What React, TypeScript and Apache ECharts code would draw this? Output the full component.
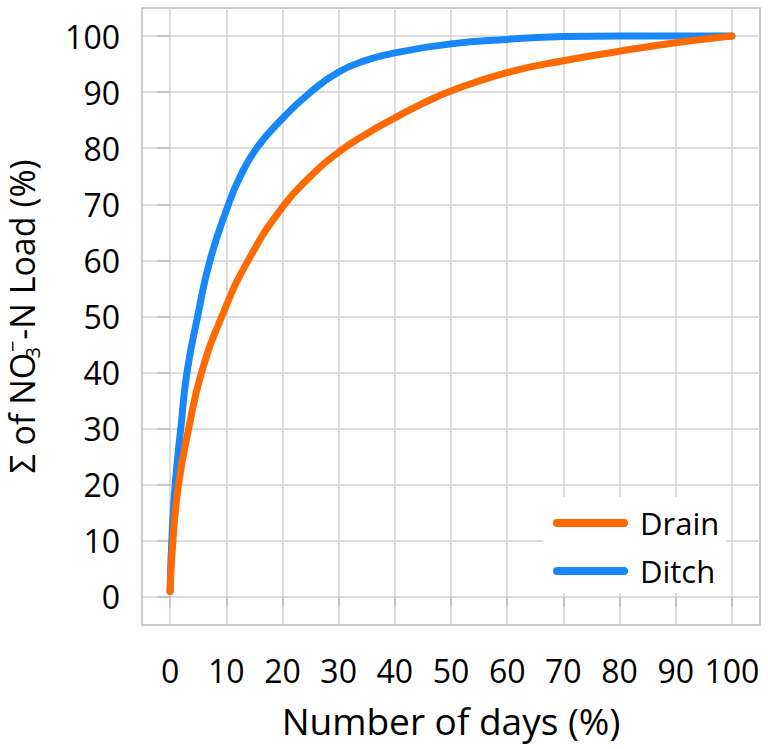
import React, { useEffect, useRef } from "react";
import * as echarts from "echarts";

const tickValues = [0, 10, 20, 30, 40, 50, 60, 70, 80, 90, 100];

const legendNames = ["Drain", "Ditch"];

const drainDays = [0, 0.5, 1.5, 3.3, 5.6, 9.2, 13.9, 20, 25, 30, 35, 40, 45, 50, 60, 70, 80, 90, 100];
const drainLoad = [1, 10, 20, 30, 40, 50, 60, 69.5, 75, 79.3, 82.6, 85.4, 88, 90.2, 93.5, 95.6, 97.3, 98.8, 100];

const ditchDays = [0, 0.3, 0.9, 1.9, 3.0, 4.9, 7.1, 10.4, 12.5, 15.4, 20, 25, 30, 35, 40, 50, 60, 70, 80, 90, 100];
const ditchLoad = [1, 10, 20, 30, 40, 50, 60, 70, 75, 80, 85.3, 90, 93.6, 95.7, 97, 98.6, 99.4, 99.9, 100, 100, 100];

const ORANGE = "#ff6a00";
const BLUE = "#1787fa";
const FONT = "'Open Sans', sans-serif";

const zip = (xs: number[], ys: number[]) => xs.map((x, i) => [x, ys[i]]);

export default function App() {
  const ref = useRef<HTMLDivElement>(null);
  useEffect(() => {
    if (!ref.current) return;
    const chart = echarts.init(ref.current, null, { renderer: "svg" });
    chart.setOption({
      animation: false,
      backgroundColor: "#fff",
      grid: {
        left: 142,
        right: 8,
        top: 8,
        bottom: 124,
        outerBoundsMode: "none",
        containLabel: false,
        show: true,
        borderColor: "#bcbcbc",
        borderWidth: 1.5,
        backgroundColor: "transparent",
      },
      legend: {
        left: 543,
        top: 497,
        orient: "vertical",
        data: legendNames,
        backgroundColor: "#fff",
        padding: [6, 7, 2, 10],
        itemGap: 8,
        itemWidth: 75,
        itemHeight: 8,
        icon: "path://M4,0 L71,0 A4,4 0 0 1 71,8 L4,8 A4,4 0 0 1 4,0 Z",
        textStyle: {
          fontSize: 31,
          fontFamily: FONT,
          color: "#000",
          lineHeight: 40,
          padding: [0, 0, 0, 7],
        },
      },
      xAxis: {
        type: "value",
        min: -5,
        max: 105,
        offset: 3,
        name: "Number of days (%)",
        nameLocation: "middle",
        nameGap: 74,
        nameTextStyle: { fontSize: 37, fontFamily: FONT, color: "#000" },
        axisLine: { show: false },
        axisTick: {
          show: true,
          length: 10,
          customValues: tickValues,
          lineStyle: { color: "#bcbcbc", width: 1.5 },
        },
        axisLabel: {
          customValues: tickValues,
          margin: 26,
          fontSize: 32,
          fontFamily: FONT,
          color: "#000",
        },
        splitLine: { show: true, lineStyle: { color: "#d2d2d2", width: 1.5 } },
      },
      yAxis: {
        type: "value",
        min: -5,
        max: 105,
        name: "{a|Σ of NO}{sub|3}{sup|−}{a|-N Load (%)}",
        nameLocation: "middle",
        nameGap: 100,
        nameTextStyle: {
          fontSize: 34,
          fontFamily: FONT,
          color: "#000",
          rich: {
            a: { fontSize: 34, fontFamily: FONT, color: "#000", lineHeight: 40 },
            sub: {
              fontSize: 20,
              fontFamily: FONT,
              color: "#000",
              verticalAlign: "bottom",
              lineHeight: 20,
              width: 0,
              align: "left",
            },
            sup: {
              fontSize: 20,
              fontFamily: FONT,
              color: "#000",
              verticalAlign: "top",
              lineHeight: 20,
              width: 13,
              align: "left",
            },
          },
        },
        axisLine: { show: false },
        axisTick: {
          show: true,
          length: 13,
          customValues: tickValues,
          lineStyle: { color: "#bcbcbc", width: 1.5 },
        },
        axisLabel: {
          customValues: tickValues,
          margin: 22,
          fontSize: 32,
          fontFamily: FONT,
          color: "#000",
        },
        splitLine: { show: true, lineStyle: { color: "#d2d2d2", width: 1.5 } },
      },
      series: [
        {
          name: "Ditch",
          type: "line",
          data: zip(ditchDays, ditchLoad),
          smooth: 0.5,
          showSymbol: false,
          symbol: "none",
          lineStyle: { width: 7, color: BLUE, cap: "round", join: "round" },
          itemStyle: { color: BLUE },
          z: 2,
        },
        {
          name: "Drain",
          type: "line",
          data: zip(drainDays, drainLoad),
          smooth: 0.5,
          showSymbol: false,
          symbol: "none",
          lineStyle: { width: 7, color: ORANGE, cap: "round", join: "round" },
          itemStyle: { color: ORANGE },
          z: 3,
        },
      ],
    });
    return () => chart.dispose();
  }, []);
  return (
    <div
      ref={ref}
      style={{ position: "fixed", left: 0, top: 0, width: 768, height: 749 }}
    />
  );
}
